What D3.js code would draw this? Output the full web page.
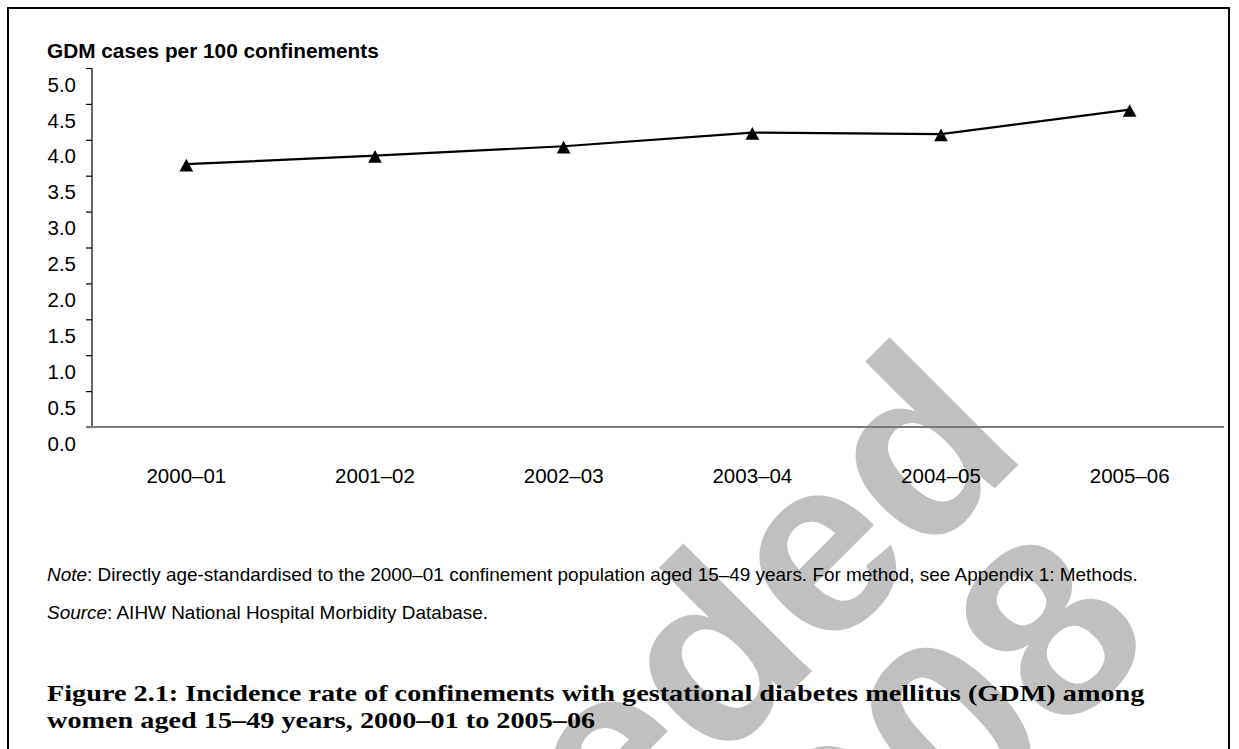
<!DOCTYPE html>
<html>
<head>
<meta charset="utf-8">
<script src="https://cdn.jsdelivr.net/npm/d3@7"></script>
<style>
  html, body { margin: 0; padding: 0; background: #fff; }
  svg { display: block; }
</style>
</head>
<body>
<svg id="chart" width="1239" height="749"></svg>
<script>
const categories = ["2000–01", "2001–02", "2002–03", "2003–04", "2004–05", "2005–06"];
const gdmRate = [3.66, 3.78, 3.91, 4.10, 4.08, 4.42];
const yTicks = [0, 0.5, 1, 1.5, 2, 2.5, 3, 3.5, 4, 4.5, 5];
const yTitle = "GDM cases per 100 confinements";
const noteLabel = "Note";
const noteText = ": Directly age-standardised to the 2000–01 confinement population aged 15–49 years. For method, see Appendix 1: Methods.";
const sourceLabel = "Source";
const sourceText = ": AIHW National Hospital Morbidity Database.";
const captionLines = [
  "Figure 2.1: Incidence rate of confinements with gestational diabetes mellitus (GDM) among",
  "women aged 15–49 years, 2000–01 to 2005–06"
];
const watermarkLines = ["Superseded", "2008"];

const svg = d3.select("#chart");
const sans = "'Liberation Sans', Arial, sans-serif";

// watermark (behind everything)
const wm = svg.append("g").attr("fill", "#c0c0c0")
  .attr("font-family", sans).attr("font-weight", "bold").attr("font-size", 250);
wm.append("text").attr("text-anchor", "end")
  .attr("transform", "translate(1030,453) rotate(-45)")
  .text(watermarkLines[0]);
wm.append("text").attr("text-anchor", "end")
  .attr("transform", "translate(1160,641) rotate(-45)")
  .text(watermarkLines[1]);

// frame
svg.append("rect").attr("x", 8).attr("y", 8).attr("width", 1221).attr("height", 760)
  .attr("fill", "none").attr("stroke", "#000").attr("stroke-width", 2);

const x = d3.scaleBand().domain(categories).range([92, 1224]).padding(0);
const y = d3.scaleLinear().domain([0, 5]).range([427, 68]);

// y axis
const yAxis = svg.append("g").attr("transform", "translate(92,0)")
  .call(d3.axisLeft(y).tickValues(yTicks).tickSize(6).tickFormat(""));
yAxis.select(".domain").attr("stroke", "#000").attr("stroke-width", 1.2).attr("d", `M0,${y(5)}V${y(0)}`);
yAxis.selectAll(".tick line").attr("stroke", "#000").attr("stroke-width", 1.2);

svg.append("g").selectAll("text").data(yTicks).join("text")
  .attr("x", 76).attr("y", d => y(d) + 16.5).attr("dy", "0.35em")
  .attr("text-anchor", "end").attr("font-family", sans).attr("font-size", 20.5).attr("fill", "#000")
  .text(d => d3.format(".1f")(d));

// x axis
svg.append("line").attr("x1", 86).attr("x2", 1224).attr("y1", y(0)).attr("y2", y(0))
  .attr("stroke", "#7a7a7a").attr("stroke-width", 2);
svg.append("g").selectAll("text").data(categories).join("text")
  .attr("x", d => x(d) + x.bandwidth() / 2).attr("y", 483)
  .attr("text-anchor", "middle").attr("font-family", sans).attr("font-size", 20.5).attr("fill", "#000")
  .text(d => d);

// y title
svg.append("text").attr("x", 47).attr("y", 58).attr("font-family", sans).attr("font-weight", "bold")
  .attr("font-size", 20.8).attr("fill", "#000").text(yTitle);

// line
const pts = categories.map((c, i) => ({ c, v: gdmRate[i] }));
svg.append("path").datum(pts)
  .attr("fill", "none").attr("stroke", "#000").attr("stroke-width", 2.2)
  .attr("d", d3.line().x(d => x(d.c) + x.bandwidth() / 2).y(d => y(d.v)));
svg.append("g").selectAll("path").data(pts).join("path")
  .attr("transform", d => `translate(${x(d.c) + x.bandwidth() / 2},${y(d.v)})`)
  .attr("d", "M0,-5.5L6.8,7.2L-6.8,7.2Z").attr("fill", "#000");

// notes
const note = svg.append("text").attr("x", 47).attr("y", 581).attr("font-family", sans).attr("font-size", 15.2).attr("fill", "#000");
note.append("tspan").attr("font-style", "italic").text(noteLabel);
note.append("tspan").text(noteText);
const nw = note.node().getComputedTextLength();
const nfs = 15.2 * 1090 / nw;
note.attr("font-size", nfs);
const src = svg.append("text").attr("x", 47).attr("y", 619).attr("font-family", sans).attr("font-size", nfs).attr("fill", "#000");
src.append("tspan").attr("font-style", "italic").text(sourceLabel);
src.append("tspan").text(sourceText);

// caption (serif, stretched slightly to the reference width)
const cap = svg.append("g").attr("font-family", "'Liberation Serif', 'DejaVu Serif', serif").attr("font-weight", "bold").attr("fill", "#000");
const capTexts = cap.selectAll("text").data(captionLines).join("text")
  .attr("x", 0).attr("y", (d, i) => 701 + i * 27).attr("font-size", 23.5).text(d => d);
const w0 = capTexts.node().getComputedTextLength();
const sx = 1098 / w0;
cap.attr("transform", `translate(47,0) scale(${sx},1)`);
</script>
</body>
</html>
